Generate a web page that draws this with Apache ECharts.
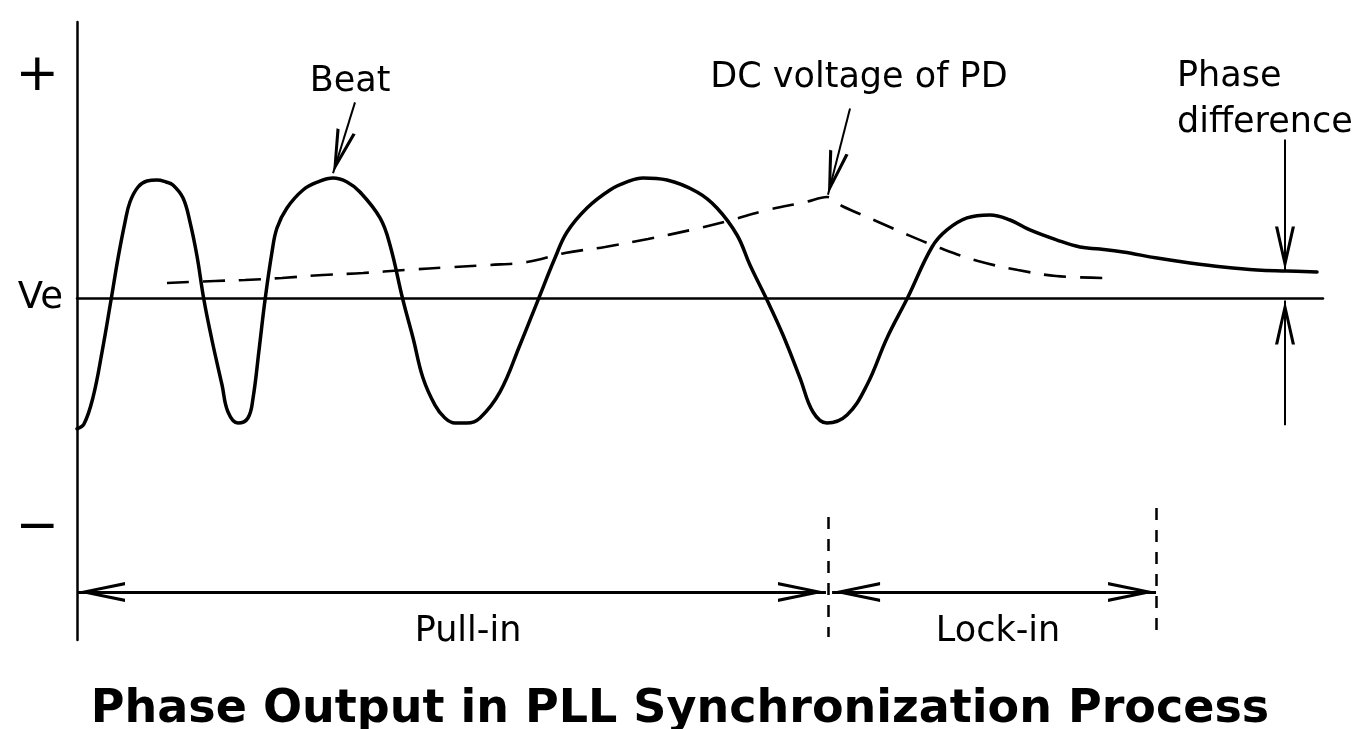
<!DOCTYPE html>
<html><head><meta charset="utf-8">
<script src="https://cdn.jsdelivr.net/npm/echarts@6/dist/echarts.min.js"></script>
<style>html,body{margin:0;padding:0;background:#fff}#c{width:1360px;height:729px}</style>
</head><body><div id="c"></div>
<script>
// Phase detector output (solid): time (0..100) vs level relative to Ve (peak ~ +1)
const beatTime = [0,0.56,1.28,2.01,2.73,3.29,3.85,4.25,4.90,5.62,6.42,7.14,7.70,8.51,9.07,9.63,10.19,10.83,11.64,12.12,12.92,13.72,14.13,14.61,15.09,15.65,16.05,16.85,18.14,19.34,20.55,21.67,22.71,24.32,25.12,26.16,26.97,27.77,28.73,29.53,30.34,31.30,32.34,33.95,35.55,37.00,38.36,39.33,40.93,42.78,44.14,45.43,47.35,49.76,51.36,52.97,54.01,55.38,56.66,58.03,59.07,60.19,61.80,63.40,65.01,66.69,68.62,69.82,71.43,73.27,74.88,76.48,78.65,80.50,82.10,83.95,86.68,89.33,91.97,94.70,97.11,99.52];
const beatLevel = [-1.09,-1.05,-0.83,-0.45,-0.017,0.33,0.63,0.80,0.925,0.975,0.983,0.967,0.942,0.833,0.633,0.35,-0.017,-0.35,-0.725,-0.95,-1.042,-1.0,-0.833,-0.433,-0.017,0.383,0.583,0.75,0.90,0.967,1.0,0.967,0.883,0.667,0.442,-0.017,-0.333,-0.667,-0.892,-1.0,-1.042,-1.042,-1.0,-0.783,-0.392,-0.017,0.333,0.55,0.75,0.90,0.967,1.0,0.983,0.883,0.75,0.525,0.275,-0.017,-0.308,-0.667,-0.95,-1.042,-0.975,-0.725,-0.333,0.008,0.425,0.567,0.667,0.692,0.65,0.567,0.483,0.425,0.408,0.383,0.333,0.292,0.258,0.233,0.225,0.217];
// DC voltage of PD (dashed)
const dcTime = [7.22,11.08,13.48,16.45,19.74,22.95,26.32,30.18,33.15,36.12,39.17,42.38,45.83,49.28,52.25,55.38,58.51,60.19,61.40,64.13,66.69,69.26,72.31,75.52,78.57,82.34];
const dcLevel = [0.125,0.142,0.15,0.167,0.192,0.208,0.233,0.258,0.275,0.30,0.375,0.425,0.492,0.567,0.642,0.733,0.80,0.842,0.767,0.642,0.525,0.417,0.308,0.233,0.183,0.167];
// y-axis tick labels
const yTickValues = [1.85, 0, -1.92];
const yTickLabels = ['+', 'Ve', '\u2212'];
// annotation texts (data coordinates)
const noteText = ['Beat', 'DC voltage of PD', 'Phase\ndifference', 'Pull-in', 'Lock-in'];
const noteTime = [21.91, 62.76, 88.28, 31.38, 73.92];
const noteLevel = [1.80, 1.83, 1.65, -2.78, -2.78];
// arrows: [fromTime, fromLevel, toTime, toLevel]
const pointerArrows = [[22.31,1.63,20.55,1.04],[62.04,1.58,60.27,0.86],[96.95,1.32,96.95,0.23],[96.95,-1.06,96.95,-0.02]];
const spanArrows = [[0,-2.45,60.11,-2.45],[60.6,-2.45,86.6,-2.45]];
const boundaryLines = [[60.27,-1.825,60.27,-2.825],[86.6,-1.75,86.6,-2.85]];

const FONT = 'DejaVu Sans';
const INK = '#000';
const CHEVRON = 'path://M50,0 L100,100 L84,100 L50,30 L16,100 L0,100 Z';

const zip = (a, b) => a.map((v, i) => [v, b[i]]);

const markData = [];
pointerArrows.forEach(a => markData.push([
  {coord:[a[0],a[1]], symbol:'none'},
  {coord:[a[2],a[3]], symbol:CHEVRON, symbolSize:[20,44], symbolOffset:[0,'50%']}
]));
spanArrows.forEach(a => markData.push([
  {coord:[a[0],a[1]], symbol:CHEVRON, symbolSize:[20,48], symbolOffset:[0,'50%'], lineStyle:{width:3}},
  {coord:[a[2],a[3]], symbol:CHEVRON, symbolSize:[20,48], symbolOffset:[0,'50%']}
]));
boundaryLines.forEach(a => markData.push([
  {coord:[a[0],a[1]], symbol:'none', lineStyle:{type:[12,10], width:2.5}},
  {coord:[a[2],a[3]], symbol:'none'}
]));

const chart = echarts.init(document.getElementById('c'), null, {renderer:'canvas'});
chart.setOption({
  animation: false,
  backgroundColor: '#fff',
  title: {
    text: 'Phase Output in PLL Synchronization Process',
    left: 'center', top: 682,
    textStyle: {fontFamily: FONT, fontWeight: 'bold', fontSize: 46, color: INK}
  },
  grid: {left: 77, right: 37, top: 22, bottom: 89},
  xAxis: {
    type: 'value', min: 0, max: 100,
    axisLine: {show: true, onZero: true, lineStyle: {color: INK, width: 2.5}},
    axisTick: {show: false}, axisLabel: {show: false}, splitLine: {show: false}
  },
  yAxis: {
    type: 'value', min: -2.85, max: 2.3,
    axisLine: {show: true, onZero: false, lineStyle: {color: INK, width: 2.5}},
    axisTick: {show: false}, splitLine: {show: false},
    axisLabel: {
      show: true, customValues: yTickValues, margin: 14,
      formatter: v => {
        const i = yTickValues.indexOf(v);
        const t = yTickLabels[i];
        return t === 'Ve' ? '{v|Ve}' : '{s|' + t + '}';
      },
      rich: {
        v: {fontFamily: FONT, fontSize: 37, color: INK},
        s: {fontFamily: FONT, fontSize: 52, color: INK, padding: [0, 4, 0, 0]}
      }
    }
  },
  series: [
    {
      name: 'Beat', type: 'line', data: zip(beatTime, beatLevel),
      smooth: 0.4, showSymbol: false, silent: true,
      lineStyle: {color: INK, width: 3.5, join: 'round', cap: 'round'}, z: 3
    },
    {
      name: 'DC voltage of PD', type: 'line', data: zip(dcTime, dcLevel),
      smooth: 0.35, showSymbol: false, silent: true,
      lineStyle: {color: INK, width: 2.6, type: [22, 14]}, z: 2
    },
    {
      name: 'notes', type: 'scatter', symbolSize: 0, silent: true, clip: false,
      itemStyle: {opacity: 1, color: INK},
      data: noteText.map((t, i) => ({
        value: [noteTime[i], noteLevel[i]], name: t,
        label: i === 2 ? {align: 'left', lineHeight: 46} : {}
      })),
      label: {
        show: true, position: 'inside', formatter: p => p.name,
        fontFamily: FONT, fontSize: 35, color: INK, opacity: 1
      }
    },
    {
      name: 'arrows', type: 'line', data: [], silent: true,
      markLine: {
        silent: true, animation: false,
        lineStyle: {color: INK, width: 2, type: 'solid'},
        itemStyle: {color: INK},
        label: {show: false},
        emphasis: {disabled: true},
        data: markData
      }
    }
  ]
});
</script></body></html>
